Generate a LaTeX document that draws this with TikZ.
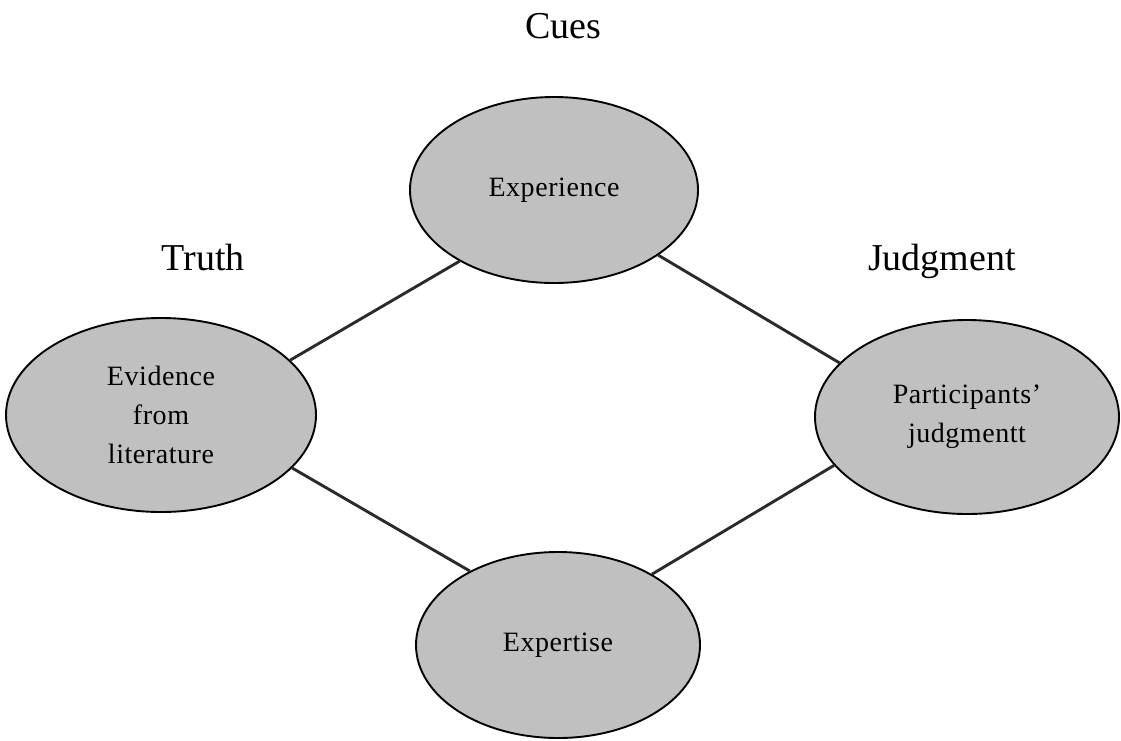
\documentclass[tikz,border=0pt]{standalone}
\usepackage{fontspec}
\setmainfont{Liberation Serif}
\usetikzlibrary{shapes.geometric}
\tikzset{
  oval/.style={ellipse, draw=black, line width=1.9pt, fill=ovalgray, inner sep=0pt, align=center,
    font=\fontsize{28}{39}\selectfont\addfontfeatures{LetterSpace=2}, text=black},
  link/.style={line width=2.9pt, draw=linkgray},
  heading/.style={anchor=base, font=\fontsize{38}{44}\selectfont, text=black}
}
\definecolor{ovalgray}{HTML}{C0C0C0}
\definecolor{linkgray}{HTML}{2A2A2A}
\begin{document}
\begin{tikzpicture}[x=1pt,y=-1pt]
\useasboundingbox (0,0) rectangle (1121,740);
\node[heading] (cues) at (563,38) {Cues};
\node[heading] (truth) at (203,270) {Truth};
\node[heading] (judg) at (942,270) {Judgment};

\node[oval, minimum width=288pt, minimum height=186pt] (exp) at (554,190) {Experience};
\node[oval, minimum width=310pt, minimum height=194pt] (evi) at (161,415) {Evidence\\from\\literature};
\node[oval, minimum width=304pt, minimum height=194pt] (par) at (967,417) {Participants'\\judgmentt};
\node[oval, minimum width=284pt, minimum height=186pt] (expt) at (558,645) {Expertise};

\draw[link] (exp.217) -- (evi.23);
\draw[link] (exp.328) -- (par.157);
\draw[link] (evi.338) -- (expt.140);
\draw[link] (expt.37) -- (par.200);
\end{tikzpicture}
\end{document}
